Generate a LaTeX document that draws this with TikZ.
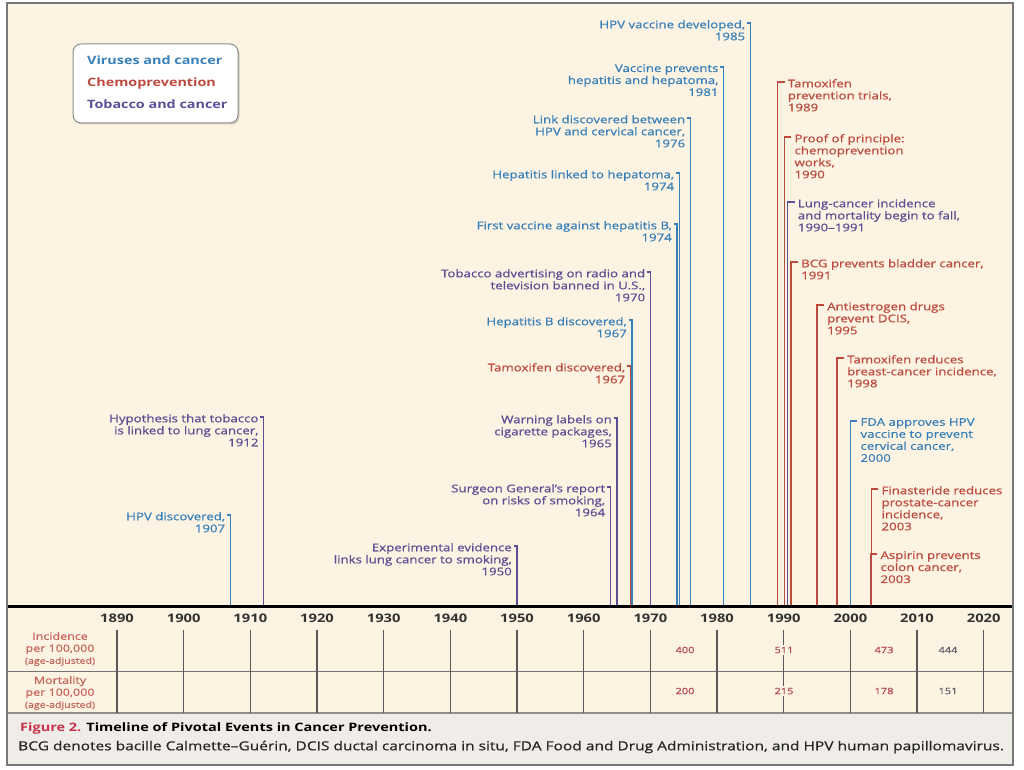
\documentclass[tikz,border=0pt]{standalone}
\usepackage{fontspec}
\setmainfont{Open Sans}[FakeStretch=1.25]
\newfontfamily\medfont{Open Sans}[Ligatures=TeX, FakeStretch=1.25, FakeBold=0.7]
\usepackage{tikz}
\usetikzlibrary{positioning, shadows}

\definecolor{cream}{RGB}{253,243,226}
\definecolor{capgray}{RGB}{240,237,233}
\definecolor{framegray}{RGB}{120,120,120}
\definecolor{virus}{RGB}{55,128,185}
\definecolor{chemo}{RGB}{188,74,62}
\definecolor{tobac}{RGB}{92,78,148}
\definecolor{numred}{RGB}{180,70,88}
\definecolor{numgray}{RGB}{95,95,105}
\definecolor{figred}{RGB}{200,50,75}

\newcommand\evfont{\medfont\fontsize{10.6}{12}\selectfont}

\begin{document}
\begin{tikzpicture}[x=1pt, y=-1pt]
    \tikzstyle{evl} = [anchor=north east, align=right, inner sep=0pt, font=\evfont]
    \tikzstyle{evr} = [anchor=north west, align=left, inner sep=0pt, font=\evfont]
    \tikzstyle{evline} = [line width=1.3pt]
    \tikzstyle{yearlbl} = [font=\fontsize{11.8}{12}\selectfont\bfseries, text=black!80, inner sep=0pt]
    \tikzstyle{rowlbl} = [align=center, inner sep=0pt, text=chemo!85!white]
    \tikzstyle{num} = [font=\medfont\fontsize{8.8}{10}\selectfont, fill=cream, inner sep=1.5pt]
    \tikzstyle{legtxt} = [anchor=base west, inner sep=0pt, font=\fontsize{11.5}{13}\selectfont\bfseries]

    \useasboundingbox (0,0) rectangle (1024,770);
    \fill[white] (0,0) rectangle (1024,770);
    \fill[cream] (7,3) rectangle (1013,713);
    \draw[capgray!60!black, fill=capgray, line width=1.5pt] (7,713) rectangle (1013,765);
    \draw[framegray, line width=2pt] (7,3) rectangle (1013,765);

    % legend
    \node[draw=black!45, line width=1pt, fill=white, rounded corners=8pt,
          minimum width=165pt, minimum height=79pt,
          drop shadow={opacity=0.35, shadow xshift=1.5pt, shadow yshift=-1.5pt}] (legend) at (155.5,83.5) {};
    \node[legtxt, text=virus] (legv) at (87,65) {Viruses and cancer};
    \node[legtxt, text=chemo] (legc) at (87,87) {Chemoprevention};
    \node[legtxt, text=tobac] (legt) at (87,109) {Tobacco and cancer};

    % events with text on the left of the line
    \foreach \yr/\ty/\col/\txt [count=\i] in {
        1907/517/virus/{HPV discovered,\\1907},
        1912/419/tobac/{Hypothesis that tobacco\\is linked to lung cancer,\\1912},
        1950/548/tobac/{Experimental evidence\\links lung cancer to smoking,\\1950},
        1964/489/tobac/{Surgeon General's report\\on risks of smoking,\\1964},
        1965/420/tobac/{Warning labels on\\cigarette packages,\\1965},
        1967/368/chemo/{Tamoxifen discovered,\\1967},
        1967.25/322/virus/{Hepatitis B discovered,\\1967},
        1970/274/tobac/{Tobacco advertising on radio and\\television banned in U.S.,\\1970},
        1974/226/virus/{First vaccine against hepatitis B,\\1974},
        1974.35/175/virus/{Hepatitis linked to hepatoma,\\1974},
        1976/120/virus/{Link discovered between\\HPV and cervical cancer,\\1976},
        1981/69/virus/{Vaccine prevents\\hepatitis and hepatoma,\\1981},
        1985/25/virus/{HPV vaccine developed,\\1985}} {
        \pgfmathsetmacro\xx{117+(\yr-1890)*6.6667}
        \node[evl, text=\col] (lev\i) at (\xx-5,\ty-5) {\txt};
        \coordinate (ltop\i) at (\xx,\ty-2);
        \coordinate (lfoot\i) at (\xx,605);
        \draw[evline, \col] ([xshift=-3.5pt]ltop\i) -- (ltop\i) -- (lfoot\i);
    }

    % events with text on the right of the line
    \foreach \yr/\ty/\col/\txt [count=\i] in {
        1989.1/84/chemo/{Tamoxifen\\prevention trials,\\1989},
        1990.1/139/chemo/{Proof of principle:\\chemoprevention\\works,\\1990},
        1990.6/204/tobac/{Lung-cancer incidence\\and mortality begin to fall,\\1990--1991},
        1991.1/264/chemo/{BCG prevents bladder cancer,\\1991},
        1995/307/chemo/{Antiestrogen drugs\\prevent DCIS,\\1995},
        1998/360/chemo/{Tamoxifen reduces\\breast-cancer incidence,\\1998},
        2000/423/virus/{FDA approves HPV\\vaccine to prevent\\cervical cancer,\\2000},
        2003.15/491/chemo/{Finasteride reduces\\prostate-cancer\\incidence,\\2003},
        2003/556/chemo/{Aspirin prevents\\colon cancer,\\2003}} {
        \pgfmathsetmacro\xx{117+(\yr-1890)*6.6667}
        \node[evr, text=\col] (rev\i) at (\xx+10,\ty-5) {\txt};
        \coordinate (rtop\i) at (\xx,\ty-2);
        \coordinate (rfoot\i) at (\xx,605);
        \draw[evline, \col] ([xshift=7pt]rtop\i) -- (rtop\i) -- (rfoot\i);
    }

    % time axis
    \coordinate (axl) at (8,606);
    \coordinate (axr) at (1012,606);
    \draw[line width=3pt] (axl) -- (axr);

    % table
    \coordinate (sepl) at (8,671);
    \coordinate (sepr) at (1012,671);
    \draw[black!55, line width=0.8pt] (sepl) -- (sepr);
    \foreach \d in {0,...,13} {
        \pgfmathsetmacro\xx{117+\d*66.6667}
        \pgfmathtruncatemacro\yy{1890+10*\d}
        \node[yearlbl] (yr\d) at (\xx,618) {\yy};
        \coordinate (colt\d) at (\xx,630);
        \coordinate (colb\d) at (\xx,713);
        \draw[black!65, line width=1.3pt] (colt\d) -- (colb\d);
    }

    \node[rowlbl] (inc) at (60,649) {{\medfont\fontsize{10}{12}\selectfont Incidence}\\
        {\medfont\fontsize{10}{12}\selectfont per 100,000}\\{\medfont\fontsize{8.5}{12}\selectfont (age-adjusted)}};
    \node[rowlbl] (mort) at (60,693) {{\medfont\fontsize{10}{12}\selectfont Mortality}\\
        {\medfont\fontsize{10}{12}\selectfont per 100,000}\\{\medfont\fontsize{8.5}{12}\selectfont (age-adjusted)}};

    \node[num, text=numred] (i1970) at (685,650) {400};
    \node[num, text=numred] (i1990) at (784,650) {511};
    \node[num, text=numred] (i2000) at (884,650) {473};
    \node[num, text=numgray] (i2010) at (948,650) {444};
    \node[num, text=numred] (m1970) at (685,691) {200};
    \node[num, text=numred] (m1990) at (784,691) {215};
    \node[num, text=numred] (m2000) at (884,691) {178};
    \node[num, text=numgray] (m2010) at (948,691) {151};

    % caption
    \node[anchor=west, inner sep=0pt, font=\fontsize{11.6}{13}\selectfont\bfseries] (captitle) at (20,728)
        {\textcolor{figred}{Figure 2.} Timeline of Pivotal Events in Cancer Prevention.};
    \node[anchor=west, inner sep=0pt, font=\medfont\fontsize{12.4}{14}\selectfont, text=black!85] (captext) at (18,747)
        {BCG denotes bacille Calmette--Guérin, DCIS ductal carcinoma in situ, FDA Food and Drug Administration, and HPV human papillomavirus.};
\end{tikzpicture}
\end{document}
